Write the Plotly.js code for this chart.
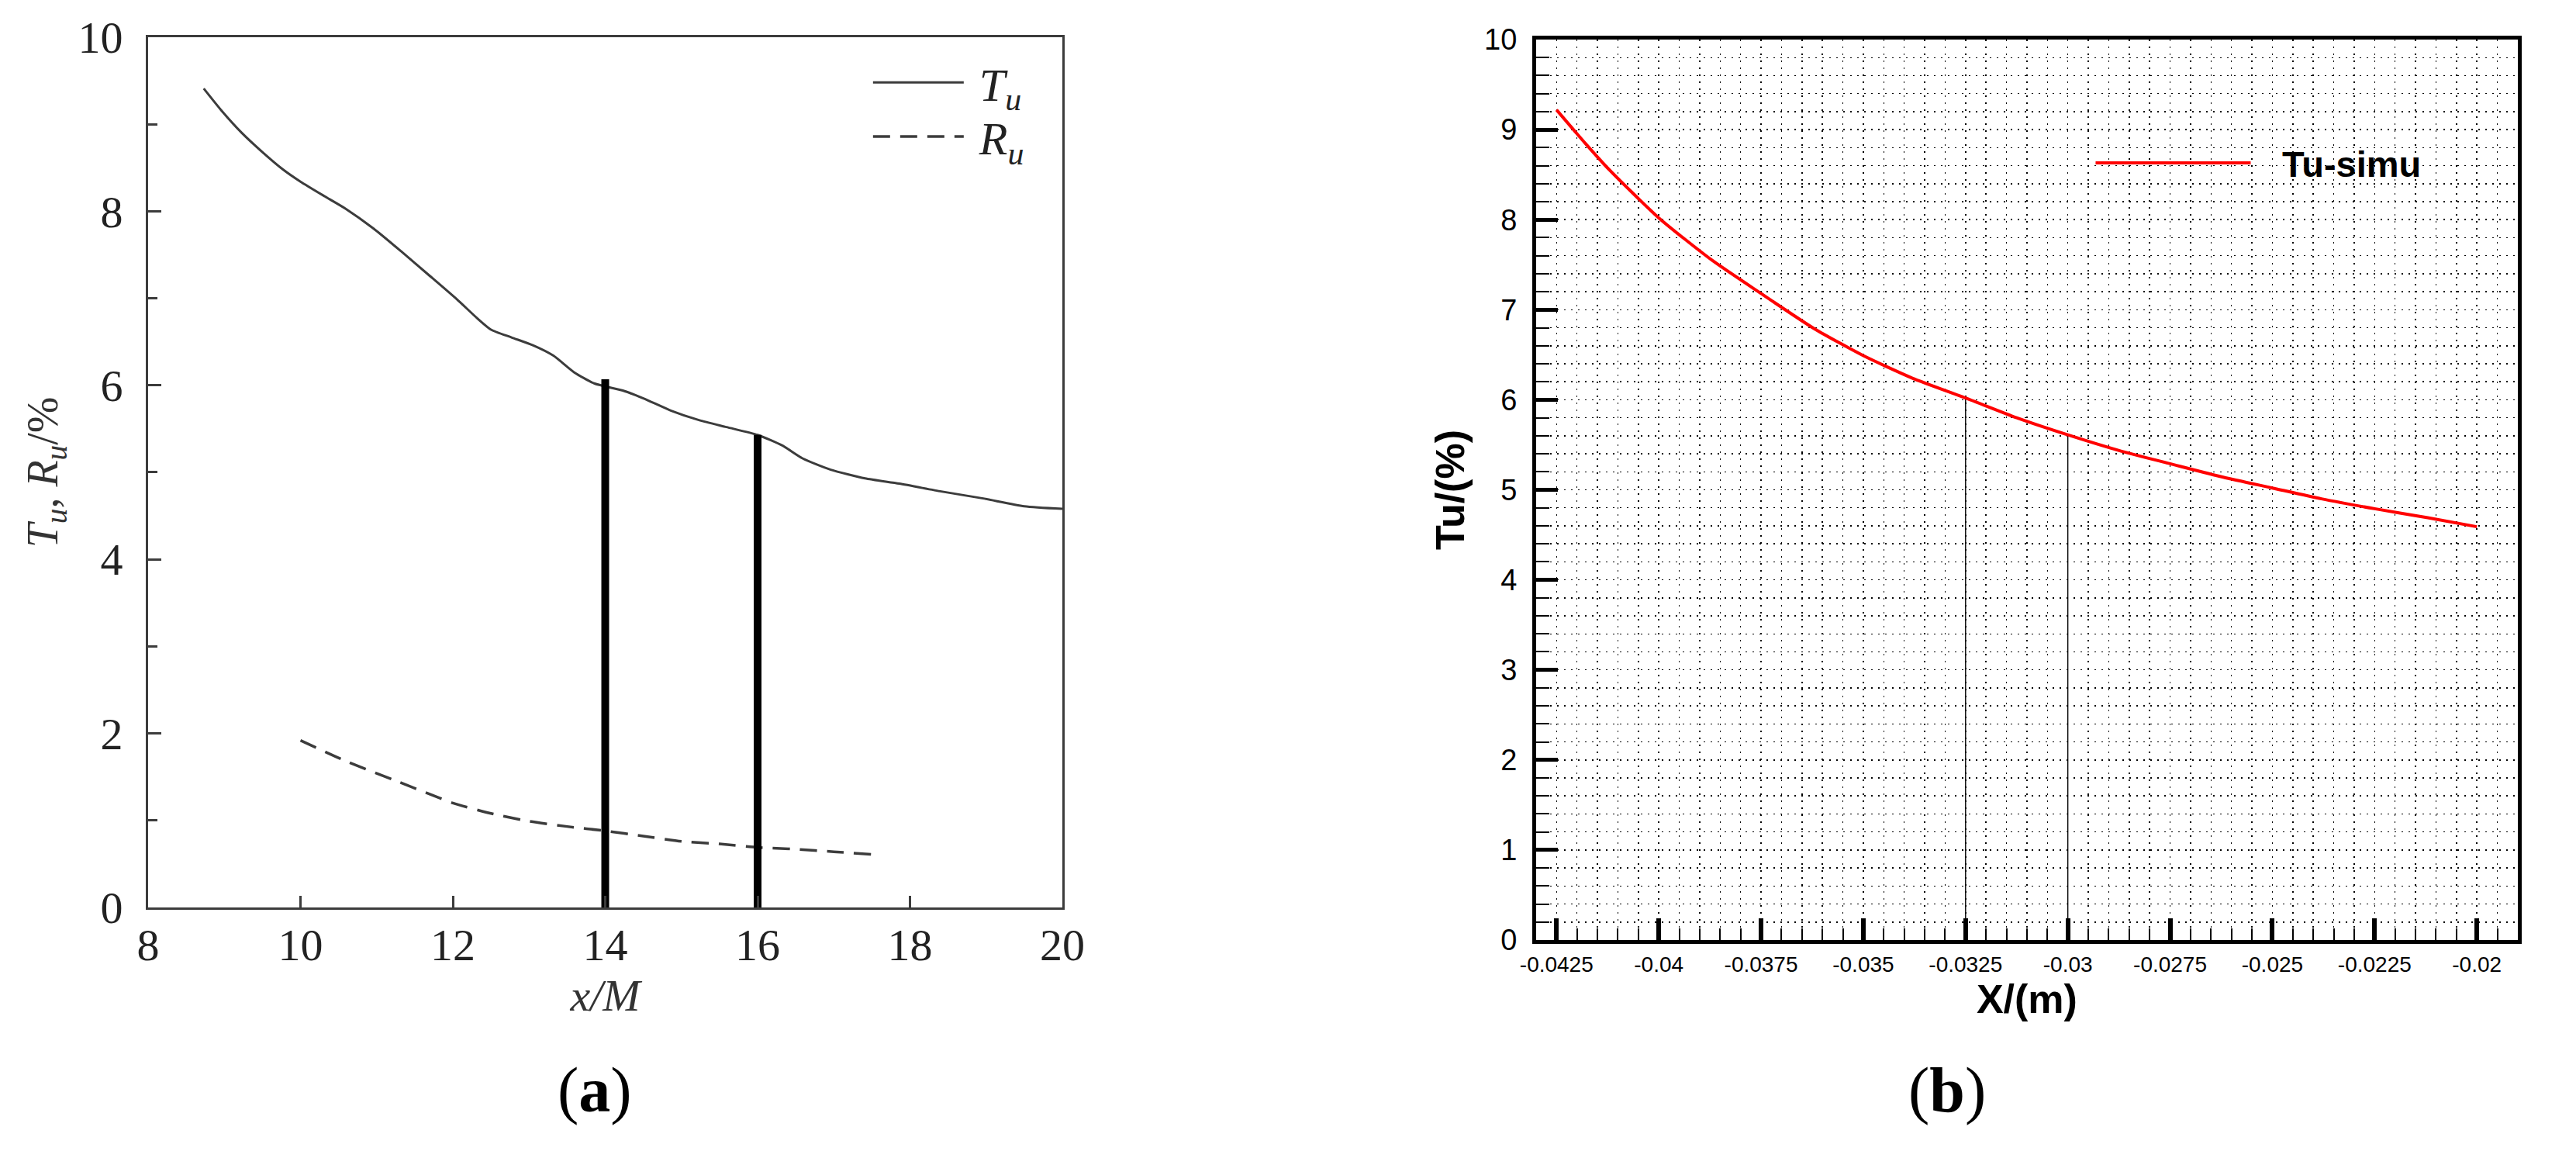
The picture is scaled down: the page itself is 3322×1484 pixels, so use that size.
<!DOCTYPE html>
<html>
<head>
<meta charset="utf-8">
<script src="https://cdn.plot.ly/plotly-3.0.1.min.js"></script>
<style>
  html, body { margin: 0; padding: 0; background: #fff; }
  #plot { width: 3322px; height: 1484px; }
</style>
</head>
<body>
<div id="plot"></div>
<script>
// DATA (a) ====================================================
// Tu measured along the tunnel, x/M
var tuX = [8.73, 8.96, 9.23, 9.50, 9.77, 10.00, 10.32, 10.59, 10.96, 11.32, 11.68, 12.05,
           12.32, 12.50, 12.77, 13.05, 13.32, 13.59, 13.86, 14.23, 14.50, 14.86, 15.23,
           15.59, 16.00, 16.32, 16.59, 16.96, 17.41, 17.86, 18.41, 18.96, 19.50, 20.00];
var tuY = [9.41, 9.16, 8.90, 8.68, 8.48, 8.34, 8.17, 8.03, 7.80, 7.54, 7.27, 6.99,
           6.77, 6.64, 6.55, 6.46, 6.34, 6.15, 6.02, 5.94, 5.85, 5.71, 5.60,
           5.52, 5.43, 5.31, 5.16, 5.03, 4.93, 4.87, 4.78, 4.70, 4.61, 4.58];

var ruX = [10.0, 10.6, 11.3, 12.0, 12.5, 13.0, 13.5, 14.0, 14.5, 15.0, 15.5, 16.0, 16.5, 17.0, 17.5];
var ruY = [1.92, 1.68, 1.44, 1.20, 1.08, 0.99, 0.93, 0.88, 0.82, 0.76, 0.73, 0.69, 0.67, 0.64, 0.61];

// thick markers of the test section
var barX = [14, 16];
var barTop = [6.07, 5.43];

// DATA (b) ====================================================
var simX = [-0.0425, -0.0418, -0.0412, -0.0400, -0.0387, -0.0375, -0.0362, -0.0350, -0.0338, -0.0325,
            -0.03125, -0.0300, -0.0287, -0.0275, -0.0262, -0.0250, -0.0238, -0.0225, -0.0212, -0.0200];
var simY = [9.22, 8.85, 8.55, 8.02, 7.55, 7.18, 6.79, 6.49, 6.24, 6.02,
            5.80, 5.61, 5.43, 5.29, 5.14, 5.02, 4.90, 4.79, 4.69, 4.59];

var markX = [-0.0325, -0.03];
var markTop = [6.02, 5.61];

var xTickVals2 = [-0.0425, -0.04, -0.0375, -0.035, -0.0325, -0.03, -0.0275, -0.025, -0.0225, -0.02];
var xTickText2 = ['-0.0425', '-0.04', '-0.0375', '-0.035', '-0.0325', '-0.03', '-0.0275', '-0.025', '-0.0225', '-0.02'];

// STYLE ========================================================
var greyA = '#3c3c3c';
var serif = 'Liberation Serif, Times New Roman, serif';
var sans = 'Liberation Sans, Arial, sans-serif';
var nb = '\u00a0';

function verticalLines(xs, tops, xa, ya, color, width) {
    var out = [];
    for (var i = 0; i < xs.length; i++) {
        out.push({
            x: [xs[i], xs[i]],
            y: [0, tops[i]],
            xaxis: xa, yaxis: ya,
            mode: 'lines',
            line: { color: color, width: width },
            showlegend: false,
            hoverinfo: 'skip',
            cliponaxis: false
        });
    }
    return out;
}

var data = [{
    x: tuX, y: tuY,
    name: nb + '<i>T<sub>u</sub></i>',
    mode: 'lines',
    line: { color: greyA, width: 3, shape: 'spline', smoothing: 0.6 },
    xaxis: 'x', yaxis: 'y',
    legend: 'legend'
}, {
    x: ruX, y: ruY,
    name: nb + '<i>R<sub>u</sub></i>',
    mode: 'lines',
    line: { color: greyA, width: 3.5, dash: '22px,13px', shape: 'spline', smoothing: 0.6 },
    xaxis: 'x', yaxis: 'y',
    legend: 'legend3'
}];
data = data.concat(verticalLines(barX, barTop, 'x', 'y', '#000', 10));
data = data.concat(verticalLines(markX, markTop, 'x2', 'y2', '#000', 1.4));
data.push({
    x: simX, y: simY,
    name: nb + nb + '\u2009Tu-simu',
    mode: 'lines',
    line: { color: '#ff0000', width: 4, shape: 'spline', smoothing: 0.6 },
    xaxis: 'x2', yaxis: 'y2',
    legend: 'legend2'
});

var gridDots = { griddash: '2px,7px', gridcolor: '#000', gridwidth: 1.5 };
var legendA = {
    xanchor: 'left', yanchor: 'top',
    bgcolor: 'rgba(0,0,0,0)',
    font: { family: serif, size: 60, color: '#222' },
    itemwidth: 117
};

var layout = {
    width: 3322,
    height: 1484,
    margin: { l: 0, r: 0, t: 0, b: 0 },
    paper_bgcolor: '#fff',
    plot_bgcolor: '#fff',
    hovermode: false,
    // (a)
    xaxis: {
        domain: [0.0575, 0.4124],
        range: [8, 20],
        tick0: 8, dtick: 2,
        ticks: 'inside', ticklen: 15, tickwidth: 3, tickcolor: greyA,
        showline: true, linecolor: greyA, linewidth: 3, mirror: true,
        showgrid: false, zeroline: false,
        tickfont: { family: serif, size: 58, color: '#222' },
        ticklabelstandoff: -5,
        title: { text: '<i>x/M</i>', standoff: 2, font: { family: serif, size: 58, color: '#333' } },
        anchor: 'y'
    },
    yaxis: {
        domain: [0.2116, 0.9677],
        range: [0, 10],
        tick0: 0, dtick: 2,
        ticks: 'inside', ticklen: 17, tickwidth: 3, tickcolor: greyA,
        minor: { dtick: 1, ticks: 'inside', ticklen: 12, tickwidth: 3, tickcolor: greyA },
        showline: true, linecolor: greyA, linewidth: 3, mirror: true,
        showgrid: false, zeroline: false,
        tickfont: { family: serif, size: 58, color: '#222' },
        ticklabelstandoff: 18,
        title: { text: '<i>T<sub>u</sub></i>, <i>R<sub>u</sub></i>/%', standoff: 8, font: { family: serif, size: 56, color: '#333' } },
        anchor: 'x'
    },
    // (b)
    xaxis2: Object.assign({
        domain: [0.5963, 0.9774],
        range: [-0.043, -0.019],
        tickmode: 'array', tickvals: xTickVals2, ticktext: xTickText2,
        ticks: 'inside', ticklen: 28, tickwidth: 6, tickcolor: '#000',
        minor: Object.assign({ tickmode: 'linear', tick0: -0.0425, dtick: 0.0005, ticks: 'inside', ticklen: 15, tickwidth: 2, tickcolor: '#000', showgrid: true }, gridDots),
        showline: true, linecolor: '#000', linewidth: 5, mirror: true,
        showgrid: true, zeroline: false,
        tickfont: { family: sans, size: 28, color: '#000' },
        ticklabelstandoff: 2,
        title: { text: 'X/(m)', standoff: 8, font: { family: sans, size: 52, color: '#000', weight: 'bold' } },
        anchor: 'y2'
    }, gridDots),
    yaxis2: Object.assign({
        domain: [0.1833, 0.9656],
        range: [0, 10],
        tick0: 0, dtick: 1,
        ticks: 'inside', ticklen: 28, tickwidth: 5, tickcolor: '#000',
        minor: Object.assign({ dtick: 0.2, ticks: 'inside', ticklen: 17, tickwidth: 2, tickcolor: '#000', showgrid: true }, gridDots),
        showline: true, linecolor: '#000', linewidth: 5, mirror: true,
        showgrid: true, zeroline: false,
        tickfont: { family: sans, size: 38, color: '#000' },
        ticklabelstandoff: 12,
        title: { text: 'Tu/(%)', standoff: 10, font: { family: sans, size: 52, color: '#000', weight: 'bold' } },
        anchor: 'x2'
    }, gridDots),
    legend: Object.assign({ x: 0.3374, y: 0.959 }, legendA),
    legend3: Object.assign({ x: 0.3374, y: 0.912 }, legendA),
    legend2: {
        x: 0.812, y: 0.8834, xanchor: 'left', yanchor: 'top',
        bgcolor: 'rgba(0,0,0,0)',
        font: { family: sans, size: 47, color: '#000', weight: 'bold' },
        itemwidth: 200
    },
    annotations: [{
        text: '(<b>a</b>)', xref: 'paper', yref: 'paper', x: 0.2309, y: 0.053,
        xanchor: 'center', yanchor: 'middle',
        showarrow: false, font: { family: serif, size: 82, color: '#000' }
    }, {
        text: '(<b>b</b>)', xref: 'paper', yref: 'paper', x: 0.7559, y: 0.053,
        xanchor: 'center', yanchor: 'middle',
        showarrow: false, font: { family: serif, size: 82, color: '#000' }
    }]
};

Plotly.newPlot('plot', data, layout, { displayModeBar: false, staticPlot: true });
</script>
</body>
</html>
